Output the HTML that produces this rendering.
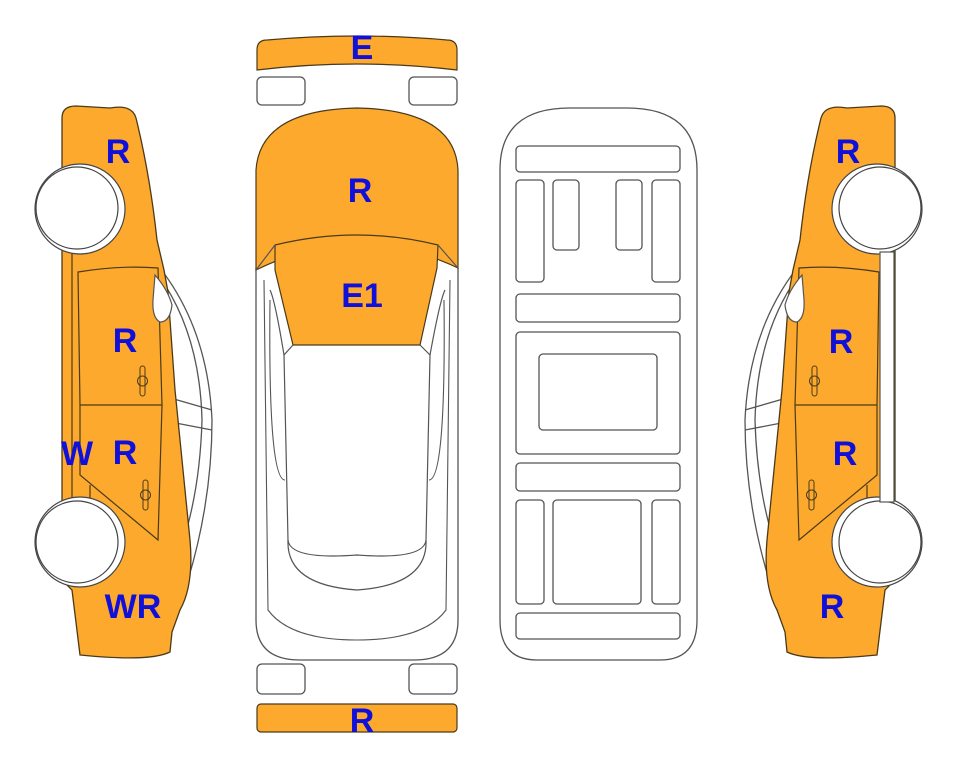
<!DOCTYPE html>
<html><head><meta charset="utf-8"><style>
html,body{margin:0;padding:0;background:#fff;width:963px;height:768px;overflow:hidden}
svg{display:block}
text{font-family:"Liberation Sans",Arial,sans-serif;font-weight:bold;font-size:34px;fill:#1010d8;text-anchor:middle}
</style></head><body>
<svg width="963" height="768" viewBox="0 0 963 768" xmlns="http://www.w3.org/2000/svg">
<defs>
<g id="side">
  <path d="M160,268 Q208,330 212,420 Q212,500 188,580" fill="#fff" stroke="#555" stroke-width="1.3"/>
  <path d="M165,285 Q200,340 202,420 Q200,490 182,545" fill="none" stroke="#555" stroke-width="1.3"/>
  <path d="M160,395 L212,410 M160,420 L212,430" stroke="#555" stroke-width="1.3" fill="none"/>
  <path d="M62,118 Q62,106 76,106 L110,108 Q132,104 136,118 Q150,175 157,240 L164,270 L168,292 L175,390 L183,470 L190,540 Q194,585 180,610 L172,632 L170,652 Q150,662 80,655 L72,590 L62,580 Z" fill="#fca92e" stroke="#4a3a1a" stroke-width="1.3"/>
  <path d="M78,272 Q120,265 158,268 L162,405 L80,405 Z" fill="none" stroke="#4a3a1a" stroke-width="1.2"/>
  <path d="M80,405 L80,475 L158,540 L162,405" fill="none" stroke="#4a3a1a" stroke-width="1.2"/>
  <path d="M72,245 L72,500 M90,485 L90,505" stroke="#4a3a1a" stroke-width="1.2" fill="none"/>
  <path d="M155,275 Q168,290 172,305 Q170,322 160,322 Q152,318 153,300 Z" fill="#fff" stroke="#555" stroke-width="1.2"/>
  <rect x="140" y="366" width="5" height="30" rx="2.5" fill="none" stroke="#4a3a1a"/>
  <circle cx="142.5" cy="381" r="5" fill="none" stroke="#4a3a1a"/>
  <rect x="143" y="480" width="5" height="30" rx="2.5" fill="none" stroke="#4a3a1a"/>
  <circle cx="145.5" cy="495" r="5" fill="none" stroke="#4a3a1a"/>
  <circle cx="80" cy="209" r="45" fill="#fff" stroke="#444" stroke-width="1.2"/>
  <circle cx="77" cy="208" r="41" fill="#fff" stroke="#444" stroke-width="1.2"/>
  <circle cx="80" cy="542" r="45" fill="#fff" stroke="#444" stroke-width="1.2"/>
  <circle cx="77" cy="542" r="41" fill="#fff" stroke="#444" stroke-width="1.2"/>
</g>
</defs>
<use href="#side"/>
<use href="#side" transform="translate(957,0) scale(-1,1)"/>
<rect x="880" y="252" width="14" height="250" fill="#fff" stroke="#555" stroke-width="1.2"/>

<rect x="257" y="77" width="48" height="28" rx="5" fill="#fff" stroke="#555" stroke-width="1.3"/>
<rect x="409" y="77" width="48" height="28" rx="5" fill="#fff" stroke="#555" stroke-width="1.3"/>
<path d="M257,50 Q257,40 267,40 Q357,32 447,40 Q457,40 457,50 L457,70 Q357,58 257,70 Z" fill="#fca92e" stroke="#4a3a1a" stroke-width="1.2"/>
<path d="M256,268 L256,620 Q256,660 300,660 L414,660 Q458,660 458,620 L458,268" fill="#fff" stroke="#555" stroke-width="1.3"/>
<path d="M256,270 L256,170 Q260,110 357,108 Q455,110 458,170 L458,268 Q357,220 256,270 Z" fill="#fca92e" stroke="#4a3a1a" stroke-width="1.2"/>
<path d="M275,245 Q357,225 438,245 L437,268 L420,345 L293,345 L275,270 Z" fill="#fca92e" stroke="#4a3a1a" stroke-width="1.2"/>
<path d="M293,345 L284,355 L288,540 Q290,560 357,555 Q424,560 426,540 L430,355 L420,345" fill="none" stroke="#555" stroke-width="1.2"/>
<path d="M288,540 Q286,585 357,590 Q428,585 426,540 M284,355 Q275,300 270,290 M430,355 Q440,300 445,290 M256,270 L275,245 M458,268 L438,245" fill="none" stroke="#555" stroke-width="1.2"/>
<path d="M264,280 L268,610 Q290,640 357,640 Q424,640 446,610 L450,280" fill="none" stroke="#555" stroke-width="1.1"/>
<path d="M270,300 Q268,480 285,480 M444,300 Q446,480 429,480" fill="none" stroke="#555" stroke-width="1.1"/>
<rect x="257" y="664" width="48" height="30" rx="5" fill="#fff" stroke="#555" stroke-width="1.3"/>
<rect x="409" y="664" width="48" height="30" rx="5" fill="#fff" stroke="#555" stroke-width="1.3"/>
<rect x="257" y="704" width="200" height="28" rx="4" fill="#fca92e" stroke="#4a3a1a" stroke-width="1.2"/>

<g fill="#fff" stroke="#555" stroke-width="1.3">
<path d="M500,170 Q500,108 570,108 L627,108 Q697,108 697,170 L697,620 Q697,660 660,660 L537,660 Q500,660 500,620 Z"/>
<rect x="516" y="146" width="164" height="26" rx="4"/>
<rect x="516" y="180" width="28" height="102" rx="4"/>
<rect x="553" y="180" width="26" height="70" rx="4"/>
<rect x="616" y="180" width="26" height="70" rx="4"/>
<rect x="652" y="180" width="28" height="102" rx="4"/>
<rect x="516" y="294" width="164" height="28" rx="4"/>
<rect x="516" y="332" width="164" height="122" rx="4"/>
<rect x="539" y="354" width="118" height="76" rx="4"/>
<rect x="516" y="463" width="164" height="28" rx="4"/>
<rect x="516" y="500" width="28" height="104" rx="4"/>
<rect x="553" y="500" width="88" height="104" rx="4"/>
<rect x="652" y="500" width="28" height="104" rx="4"/>
<rect x="516" y="613" width="164" height="26" rx="4"/>
</g>

<text x="362" y="59">E</text>
<text x="360" y="202">R</text>
<text x="362" y="307">E1</text>
<text x="362" y="732">R</text>
<text x="118" y="163">R</text>
<text x="125" y="352">R</text>
<text x="77" y="465">W</text>
<text x="125" y="464">R</text>
<text x="133" y="618">WR</text>
<text x="848" y="163">R</text>
<text x="841" y="353">R</text>
<text x="845" y="465">R</text>
<text x="832" y="618">R</text>
</svg>
</body></html>
